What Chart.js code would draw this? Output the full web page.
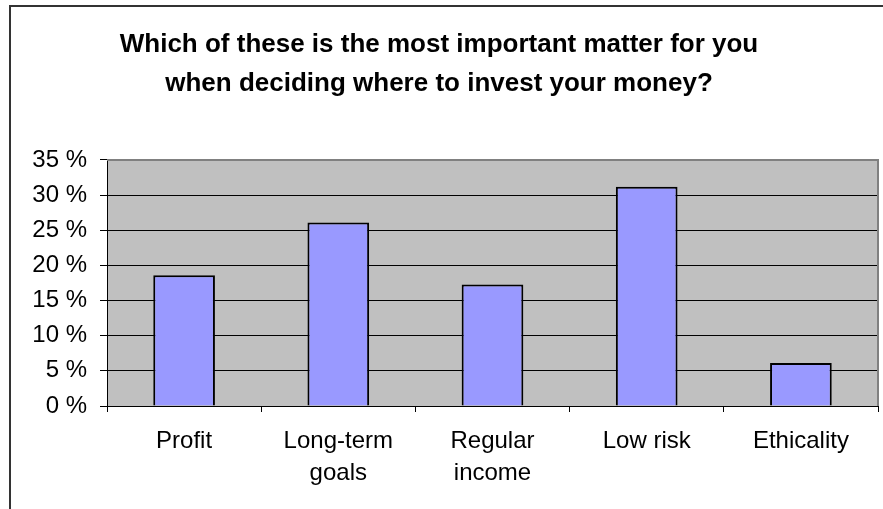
<!DOCTYPE html>
<html>
<head>
<meta charset="utf-8">
<script src="https://cdn.jsdelivr.net/npm/chart.js"></script>
<style>
  html, body { margin: 0; padding: 0; background: #fff; overflow: hidden; }
  #wrap { position: relative; width: 883px; height: 509px; }
  #frame { position: absolute; left: 9px; top: 5px; width: 900px; height: 600px; border: 2px solid #333; box-sizing: border-box; }
  canvas { position: absolute; left: 0; top: 0; }
</style>
</head>
<body>
<div id="wrap">
  <div id="frame"></div>
  <canvas id="myChart" width="883" height="509"></canvas>
</div>
<script>
// du lieu doc tu hinh
const categories = [['Profit'], ['Long-term', 'goals'], ['Regular', 'income'], ['Low risk'], ['Ethicality']];
const shares = [18.6, 26.1, 17.3, 31.2, 6.1];
const yTicks = [0, 5, 10, 15, 20, 25, 30, 35];

const FONT = "'Liberation Sans', Arial, sans-serif";

// nen xam cua vung ve + vien xam tren/phai
const plotBg = {
    id: 'plotBg',
    beforeDraw(chart) {
        const a = chart.chartArea, c = chart.ctx;
        c.save();
        c.fillStyle = '#C0C0C0';
        c.fillRect(a.left, a.top, a.right - a.left, a.bottom - a.top);
        c.restore();
    },
    afterDraw(chart) {
        const a = chart.chartArea, c = chart.ctx;
        c.save();
        c.strokeStyle = '#808080';
        c.lineWidth = 2;
        c.beginPath();
        c.moveTo(a.left, a.top);
        c.lineTo(a.right, a.top);
        c.lineTo(a.right, a.bottom);
        c.stroke();
        c.restore();
    }
};

new Chart(document.getElementById('myChart').getContext('2d'), {
    type: 'bar',
    data: {
        labels: categories,
        datasets: [{
            data: shares,
            backgroundColor: '#9999FF',
            borderColor: '#000',
            borderWidth: 2,
            categoryPercentage: 1,
            barPercentage: 0.4
        }]
    },
    options: {
        responsive: false,
        animation: false,
        layout: { padding: { left: 0, right: 5, top: 0, bottom: 0 } },
        plugins: {
            legend: { display: false },
            tooltip: { enabled: false },
            title: {
                display: true,
                text: ['Which of these is the most important matter for you', 'when deciding where to invest your money?'],
                color: '#000',
                font: { family: FONT, size: 26, weight: 'bold', lineHeight: 1.48 },
                padding: { top: 26, bottom: 57 }
            }
        },
        scales: {
            x: {
                afterFit: s => { s.height = 103; },
                border: { color: '#000', width: 1 },
                grid: { offset: true, drawOnChartArea: false, drawTicks: true, tickLength: 6, tickColor: '#000' },
                ticks: { color: '#000', font: { family: FONT, size: 24, lineHeight: 1.32 }, padding: 14, maxRotation: 0 }
            },
            y: {
                min: 0,
                max: 35,
                afterFit: s => { s.width = 107; },
                afterBuildTicks: s => { s.ticks = yTicks.map(v => ({ value: v })); },
                border: { color: '#000', width: 1 },
                grid: {
                    color: ctx => (ctx.tick && ctx.tick.value === 35) ? '#808080' : '#000',
                    tickColor: '#000',
                    tickLength: 7
                },
                ticks: {
                    color: '#000',
                    font: { family: FONT, size: 24 },
                    padding: 13,
                    callback: v => v + ' %'
                }
            }
        }
    },
    plugins: [plotBg]
});
</script>
</body>
</html>
